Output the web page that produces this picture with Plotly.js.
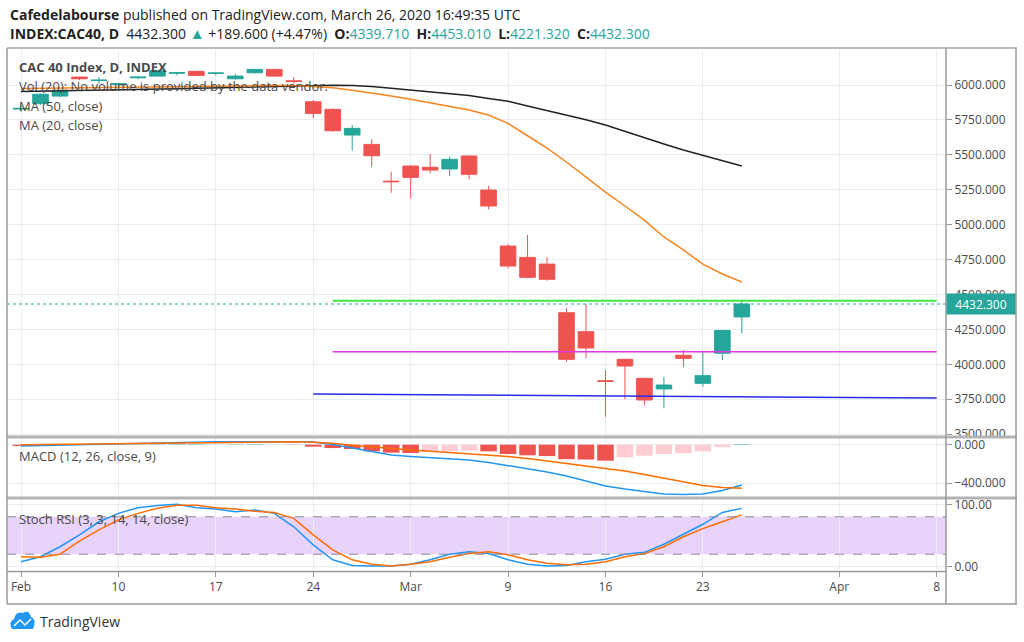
<!DOCTYPE html>
<html>
<head>
<meta charset="utf-8">
<script src="https://cdn.plot.ly/plotly-3.0.1.min.js"></script>
<style>
  html, body { margin: 0; padding: 0; background: #fff; }
  #graph { width: 1024px; height: 642px; }
</style>
</head>
<body>
<div id="graph"></div>
<script>
// daily candles, CAC 40
var dates = ["2020-02-03","2020-02-04","2020-02-05","2020-02-06","2020-02-07",
  "2020-02-10","2020-02-11","2020-02-12","2020-02-13","2020-02-14",
  "2020-02-17","2020-02-18","2020-02-19","2020-02-20","2020-02-21",
  "2020-02-24","2020-02-25","2020-02-26","2020-02-27","2020-02-28",
  "2020-03-02","2020-03-03","2020-03-04","2020-03-05","2020-03-06",
  "2020-03-09","2020-03-10","2020-03-11","2020-03-12","2020-03-13",
  "2020-03-16","2020-03-17","2020-03-18","2020-03-19","2020-03-20",
  "2020-03-23","2020-03-24","2020-03-25"];
var open  = [5828,5866,5921,6057,6032, 6005,6052,6064,6085,6098, 6083,6045,6088,6112,6030,
  5880,5826,5642,5575,5312, 5420,5411,5399,5492,5248, 4847,4766,4718,4370,4234,
  3882,4036,3900,3824,4065, 3864,4080,4339.71];
var high  = [5857,5940,5968,6060,6057, 6015,6062,6108,6090,6100, 6088,6081,6113,6115,6057,
  5893,5833,5714,5613,5379, 5427,5506,5487,5496,5279, 4862,4926,4766,4401,4432,
  3960,4040,3902,3911,4103, 4091,4246,4453.01];
var low   = [5808,5860,5915,6036,6009, 5995,6040,6060,6069,6066, 6069,6040,6081,6060,6009,
  5762,5666,5530,5415,5229, 5189,5368,5348,5325,5110, 4687,4616,4599,4019,4043,
  3625,3750,3709,3685,3979, 3840,4031,4221.32];
var close = [5833,5934,5962,6045,6035, 6010,6057,6105,6089,6069, 6086,6064,6112,6064,6026,
  5797,5673,5690,5494,5308, 5339,5391,5468,5361,5134, 4704,4623,4609,4036,4117,
  3878,3988,3745,3852,4043, 3919,4242.7,4432.3];

var ma50 = [5953,5955,5957,5959,5962, 5965,5968,5971,5974,5977, 5980,5983,5986,5989,5992,
  5996,5998,5996,5990,5978, 5964,5953,5941,5925,5903, 5884,5850,5818,5788,5752,
  5714,5667,5620,5578,5535, 5495,5456,5420];
var ma20 = [5975,5977,5979,5981,5983, 5985,5987,5989,5991,5993, 5995,5996,5997,5997,5996,
  5990,5980,5962,5943,5921, 5898,5872,5847,5821,5785, 5726,5637,5549,5449,5341,
  5234,5134,5033,4912,4819, 4718,4647,4590];

var macd   = [-13,-8,-3,2,6, 9,13,17,22,27, 30,31,32,32,31,
  28,2,-34,-70,-107, -122,-133,-143,-158,-184, -215,-252,-283,-324,-376,
  -428,-459,-485,-511,-516, -511,-474,-417];
var signal = [0,2,4,6,8, 10,12,15,18,21, 24,26,28,29,29,
  25,14,-6,-24,-39, -55,-68,-81,-91,-107, -122,-143,-169,-190,-215,
  -241,-272,-309,-345,-386, -423,-443,-452];
var hist   = [-14,-10,-6,-3,-1, 1,2,3,4,4, 3,3,4,2,-2,
  -21,-35,-45,-69,-83, -86,-72,-68,-62,-69, -97,-110,-118,-150,-154,
  -166,-131,-114,-97,-88, -69,-25,5];

var stochK = [8,16,32,51,72, 85.5,94.5,98,100,94.5, 92.5,88,91,85.5,64,
  35,11,2,1,1, 4,11,20,24,21, 11,4,1,2,8, 12,20,23,36,52, 68,87,93.5];
var stochD = [16,15,20,41,59, 75,85.5,93.5,98.5,98.5, 94.5,92.5,89,87,77.5,
  51,27,11,4,1, 4,8,15,21,24, 19,11,5.5,3,4, 8,16,21,32,48, 61,72,83];

// drawings on the chart
var greenLevel = [4455, 4455];
var magentaLevel = [4091, 4091];
var blueTrend = [3788, 3759];
var levelDates = ["2020-02-25", "2020-04-08"];
var trendDates = ["2020-02-24", "2020-04-08"];

var tickDates = ["2020-02-03","2020-02-10","2020-02-17","2020-02-24","2020-03-02",
  "2020-03-09","2020-03-16","2020-03-23","2020-04-01","2020-04-08"];
var tickText = ["Feb","10","17","24","Mar","9","16","23","Apr","8"];

var priceTicks = [3500,3750,4000,4250,4500,4750,5000,5250,5500,5750,6000];

// trading sessions (weekdays) so the x axis has no weekend gaps
var sessions = [];
for (var d = new Date(Date.UTC(2020, 1, 3)); d <= new Date(Date.UTC(2020, 3, 10)); d.setUTCDate(d.getUTCDate() + 1)) {
  var wd = d.getUTCDay();
  if (wd !== 0 && wd !== 6) sessions.push(d.toISOString().slice(0, 10));
}
function pos(day) { return sessions.indexOf(day); }
var xs = dates.map(pos);

var W = 1024, H = 642;
function px(x) { return x / W; }
function py(y) { return 1 - y / H; }

var UP = '#26a69a', DOWN = '#ef5350';
var gridColor = '#e9eef5', frameColor = '#9a9a9a';

var histColors = hist.map(function (v, i) {
  var prev = i > 0 ? hist[i - 1] : 0;
  if (v >= 0) return v >= prev ? UP : '#b2dfdb';
  return v <= prev ? DOWN : '#ffcdd2';
});

var data = [
  { type: 'candlestick', x: xs, open: open, high: high, low: low, close: close,
    xaxis: 'x', yaxis: 'y', whiskerwidth: 0, hoverinfo: 'skip',
    increasing: { line: { color: UP, width: 1 }, fillcolor: UP },
    decreasing: { line: { color: DOWN, width: 1 }, fillcolor: DOWN } },
  { type: 'scatter', mode: 'lines', x: xs, y: ma50, line: { color: '#222', width: 1.5 }, yaxis: 'y', hoverinfo: 'skip' },
  { type: 'scatter', mode: 'lines', x: xs, y: ma20, line: { color: '#f7841f', width: 1.5 }, yaxis: 'y', hoverinfo: 'skip' },
  { type: 'scatter', mode: 'lines', x: levelDates.map(pos), y: greenLevel, line: { color: '#3ee83e', width: 2 }, yaxis: 'y' },
  { type: 'scatter', mode: 'lines', x: levelDates.map(pos), y: magentaLevel, line: { color: '#e535e5', width: 1.5 }, yaxis: 'y' },
  { type: 'scatter', mode: 'lines', x: trendDates.map(pos), y: blueTrend, line: { color: '#2a2ae8', width: 1.5 }, yaxis: 'y' },

  { type: 'bar', x: xs, y: hist, marker: { color: histColors, line: { width: 0 } }, width: 0.85, yaxis: 'y2', hoverinfo: 'skip' },
  { type: 'scatter', mode: 'lines', x: xs, y: macd, line: { color: '#2196f3', width: 1.5 }, yaxis: 'y2' },
  { type: 'scatter', mode: 'lines', x: xs, y: signal, line: { color: '#ff6d00', width: 1.5 }, yaxis: 'y2' },

  { type: 'scatter', mode: 'lines', x: xs, y: stochK, line: { color: '#2196f3', width: 1.5 }, yaxis: 'y3' },
  { type: 'scatter', mode: 'lines', x: xs, y: stochD, line: { color: '#ff6d00', width: 1.5 }, yaxis: 'y3' }
];

var yCommon = {
  side: 'right', anchor: 'x', showgrid: true, gridcolor: gridColor, zeroline: false,
  ticks: 'outside', ticklen: 5, tickcolor: frameColor, fixedrange: true,
  tickfont: { size: 12, color: '#4a4a4a' }
};

var last = close.length - 1;
var change = close[last] - close[last - 1];
var pct = change / close[last - 1] * 100;
function teal(v) { return "<span style='color:" + UP + "'>" + v.toFixed(3) + "</span>"; }

var legendFont = { family: 'Open Sans, sans-serif', size: 13, color: '#4a4a4a' };
var headFont = { family: 'Open Sans, sans-serif', size: 14, color: '#222' };
function note(text, x, y, extra) {
  var a = { text: text, xref: 'paper', yref: 'paper', x: px(x), y: py(y),
    xanchor: 'left', yanchor: 'middle', showarrow: false, font: legendFont };
  for (var k in extra) a[k] = extra[k];
  return a;
}
function hline(y, x0, x1, color, width) {
  return { type: 'line', xref: 'paper', yref: 'paper', x0: px(x0), x1: px(x1), y0: py(y), y1: py(y),
    line: { color: color, width: width }, layer: 'above' };
}
function vline(x, y0, y1, color, width) {
  return { type: 'line', xref: 'paper', yref: 'paper', x0: px(x), x1: px(x), y0: py(y0), y1: py(y1),
    line: { color: color, width: width }, layer: 'above' };
}

var layout = {
  width: W, height: H,
  margin: { l: 0, r: 0, t: 0, b: 0 },
  paper_bgcolor: '#fff', plot_bgcolor: '#fff',
  showlegend: false,
  boxgap: 0.2, boxgroupgap: 0,
  font: { family: 'Open Sans, sans-serif', size: 12, color: '#4a4a4a' },
  xaxis: {
    domain: [px(7), px(946)], range: [-0.72, 47.48], anchor: 'y3',
    tickvals: tickDates.map(pos), ticktext: tickText,
    showgrid: true, gridcolor: gridColor, zeroline: false,
    ticks: 'outside', ticklen: 5, tickcolor: frameColor,
    rangeslider: { visible: false }, fixedrange: true,
    tickfont: { size: 12, color: '#4a4a4a' }
  },
  yaxis: Object.assign({}, yCommon, {
    domain: [py(436), py(50)], range: [3487, 6251], tickvals: priceTicks, tickformat: '.3f'
  }),
  yaxis2: Object.assign({}, yCommon, {
    domain: [py(497), py(438)], range: [-542, 69], tickvals: [0, -400], tickformat: '.3f'
  }),
  yaxis3: Object.assign({}, yCommon, {
    domain: [py(571), py(499)], range: [-6.9, 108.5], tickvals: [0, 100], tickformat: '.2f'
  }),
  shapes: [
    // stoch rsi band and bounds
    { type: 'rect', xref: 'paper', yref: 'y3', x0: px(7), x1: px(946), y0: 20, y1: 80,
      fillcolor: '#e8d3fb', line: { width: 0 }, layer: 'below' },
    { type: 'line', xref: 'paper', yref: 'y3', x0: px(7), x1: px(946), y0: 80, y1: 80,
      line: { color: '#8a8a96', width: 1, dash: 'dash' } },
    { type: 'line', xref: 'paper', yref: 'y3', x0: px(7), x1: px(946), y0: 20, y1: 20,
      line: { color: '#8a8a96', width: 1, dash: 'dash' } },
    // last price line
    { type: 'line', xref: 'paper', yref: 'y', x0: px(7), x1: px(946), y0: close[last], y1: close[last],
      line: { color: UP, width: 1, dash: 'dot' } },
    // frame
    hline(48, 7, 1017, '#a8a8a8', 1.5),
    hline(437, 7, 1017, '#b4b4b4', 3),
    hline(498, 7, 1017, '#b4b4b4', 3),
    hline(571.5, 7, 946, frameColor, 1.5),
    hline(604, 7, 1017, frameColor, 1.5),
    vline(7, 48, 604, frameColor, 1.5),
    vline(946, 48, 604, frameColor, 1.5),
    vline(1016, 48, 604, frameColor, 1.5),
    // tradingview cloud mark
    { type: 'path', xref: 'paper', yref: 'paper', fillcolor: '#2196f3', line: { width: 0 },
      path: 'M ' + px(12) + ' ' + py(629) + ' Q ' + px(8) + ' ' + py(622) + ' ' + px(14) + ' ' + py(619) +
        ' Q ' + px(16) + ' ' + py(611) + ' ' + px(23) + ' ' + py(613) +
        ' Q ' + px(29) + ' ' + py(609) + ' ' + px(31) + ' ' + py(617) +
        ' Q ' + px(37) + ' ' + py(619) + ' ' + px(33) + ' ' + py(629) + ' Z' },
    { type: 'path', xref: 'paper', yref: 'paper', line: { color: '#fff', width: 1.5 },
      path: 'M ' + px(14) + ' ' + py(626) + ' L ' + px(20) + ' ' + py(620) + ' L ' + px(25) + ' ' + py(625) +
        ' L ' + px(31) + ' ' + py(619) }
  ],
  annotations: [
    note('<b>Cafedelabourse</b> published on TradingView.com, March 26, 2020 16:49:35 UTC', 8, 14,
      { font: headFont }),
    note('<b>INDEX:CAC40, D</b>  ' + close[last].toFixed(3) + " <span style='color:" + UP + ";font-size:15px'>▲</span> +" +
      change.toFixed(3) + ' (+' + pct.toFixed(2) + '%)  <b>O:</b>' + teal(open[last]) +
      '  <b>H:</b>' + teal(high[last]) + '  <b>L:</b>' + teal(low[last]) + '  <b>C:</b>' + teal(close[last]), 8, 33,
      { font: headFont }),
    note('<b>CAC 40 Index, D, INDEX</b>', 17, 67),
    note('Vol (20): No volume is provided by the data vendor.', 17, 86),
    note('MA (50, close)', 17, 106),
    note('MA (20, close)', 17, 125),
    note('MACD (12, 26, close, 9)', 17, 456),
    note('Stoch RSI (3, 3, 14, 14, close)', 17, 519),
    { text: close[last].toFixed(3), xref: 'paper', yref: 'y', x: px(946), y: close[last],
      xanchor: 'left', yanchor: 'middle', showarrow: false, bgcolor: UP,
      width: 66, height: 18, borderpad: 1, font: { family: 'Open Sans, sans-serif', size: 12, color: '#fff' } },
    note('TradingView', 38, 621, { font: { family: 'Open Sans, sans-serif', size: 14, color: '#333' } })
  ]
};

Plotly.newPlot('graph', data, layout, { staticPlot: true, displayModeBar: false });
</script>
</body>
</html>
